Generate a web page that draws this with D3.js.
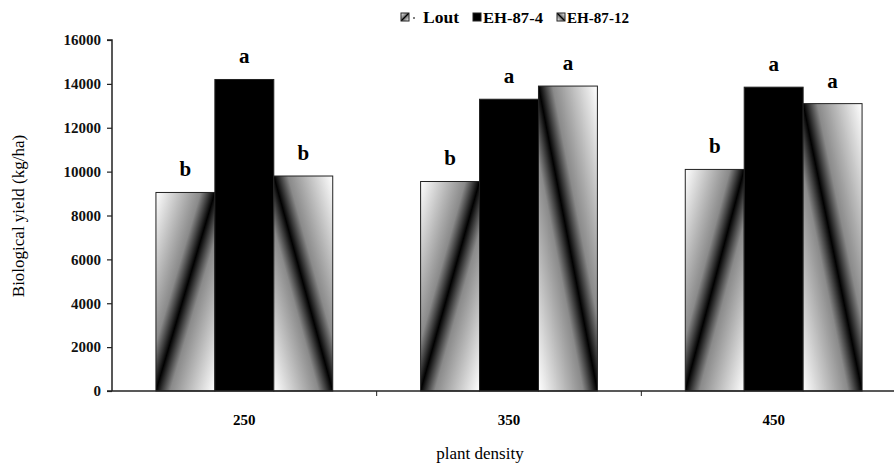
<!DOCTYPE html>
<html>
<head>
<meta charset="utf-8">
<script src="https://cdn.jsdelivr.net/npm/d3@7"></script>
<style>
  body { margin: 0; background: #fff; }
  text { font-family: "Liberation Serif", "Times New Roman", serif; }
</style>
</head>
<body>
<svg id="chart" width="894" height="464"></svg>
<script>
// chart data
var densities = ["250", "350", "450"];
var cultivars = ["Lout", "EH-87-4", "EH-87-12"];
var lout = [9050, 9550, 10100];
var eh874 = [14200, 13300, 13850];
var eh8712 = [9800, 13900, 13100];
var letters = [["b", "a", "b"], ["b", "a", "a"], ["b", "a", "a"]];
var yTicks = [0, 2000, 4000, 6000, 8000, 10000, 12000, 14000, 16000];

var series = [lout, eh874, eh8712];
var fills = ["url(#gradLout)", "#000", "url(#gradEH12)"];

var svg = d3.select("#chart");
var plotLeft = 112, plotRight = 906, plotTop = 40, plotBottom = 391;

var defs = svg.append("defs");
function makeGrad(id, x1, y1, x2, y2) {
    var g = defs.append("linearGradient").attr("id", id)
        .attr("x1", x1).attr("y1", y1).attr("x2", x2).attr("y2", y2);
    g.append("stop").attr("offset", "0%").attr("stop-color", "#fff");
    g.append("stop").attr("offset", "38%").attr("stop-color", "#8a8a8a");
    g.append("stop").attr("offset", "50%").attr("stop-color", "#000");
    g.append("stop").attr("offset", "62%").attr("stop-color", "#8a8a8a");
    g.append("stop").attr("offset", "100%").attr("stop-color", "#fff");
}
makeGrad("gradLout", 0, 0, 1, 1);
makeGrad("gradEH12", 1, 0, 0, 1);

var x0 = d3.scaleBand().domain(densities).range([plotLeft, plotRight])
    .paddingInner(0.332).paddingOuter(0.166);
var x1 = d3.scaleBand().domain(cultivars).range([0, x0.bandwidth()]);
var y = d3.scaleLinear().domain([0, 16000]).range([plotBottom, plotTop]);

// bars
var groups = svg.append("g").selectAll("g")
    .data(densities)
    .enter().append("g")
    .attr("transform", d => "translate(" + x0(d) + ",0)");

groups.each(function(d, i) {
    var g = d3.select(this);
    cultivars.forEach(function(c, j) {
        var v = series[j][i];
        g.append("rect")
            .attr("x", x1(c))
            .attr("y", y(v))
            .attr("width", x1.bandwidth())
            .attr("height", y(0) - y(v))
            .attr("fill", fills[j])
            .attr("stroke", "#222")
            .attr("stroke-width", 1);
        g.append("text")
            .attr("x", x1(c) + x1.bandwidth() / 2)
            .attr("y", y(v) - 16)
            .attr("text-anchor", "middle")
            .style("font-size", "21px")
            .style("font-weight", "bold")
            .text(letters[i][j]);
    });
});

// y axis
var yAxis = d3.axisLeft(y).tickValues(yTicks).tickSize(5).tickPadding(6)
    .tickFormat(d3.format("d"));
var yg = svg.append("g").attr("transform", "translate(" + plotLeft + ",0)").call(yAxis);
yg.select(".domain").attr("stroke", "#222").attr("stroke-width", 1.5)
    .attr("d", "M-5," + plotTop + "H0V" + plotBottom);
yg.selectAll(".tick line").attr("stroke", "#222").attr("stroke-width", 1.2);
yg.selectAll(".tick text")
    .style("font-size", "15px").style("font-weight", "bold")
    .attr("fill", "#111")
    .attr("font-family", "Liberation Serif");

// x axis
svg.append("line")
    .attr("x1", plotLeft - 5).attr("x2", 894)
    .attr("y1", plotBottom).attr("y2", plotBottom)
    .attr("stroke", "#222").attr("stroke-width", 1.5);
svg.append("g").selectAll("line")
    .data(densities.slice(1))
    .enter().append("line")
    .attr("x1", d => x0(d) - x0.step() * x0.paddingInner() / 2)
    .attr("x2", d => x0(d) - x0.step() * x0.paddingInner() / 2)
    .attr("y1", plotBottom).attr("y2", plotBottom + 5)
    .attr("stroke", "#222");
svg.append("g").selectAll("text")
    .data(densities)
    .enter().append("text")
    .attr("x", d => x0(d) + x0.bandwidth() / 2)
    .attr("y", 425)
    .attr("text-anchor", "middle")
    .style("font-size", "15px").style("font-weight", "bold")
    .text(d => d);

// axis titles
svg.append("text")
    .attr("x", 480).attr("y", 459)
    .attr("text-anchor", "middle")
    .style("font-size", "17px")
    .text("plant density");
svg.append("text")
    .attr("transform", "translate(24,216) rotate(-90)")
    .attr("text-anchor", "middle")
    .style("font-size", "17px")
    .text("Biological yield (kg/ha)");

// legend
var legX = [401, 473, 557];
var leg = svg.append("g").selectAll("g")
    .data(cultivars)
    .enter().append("g")
    .attr("transform", (d, i) => "translate(" + legX[i] + ",13)");
leg.append("rect")
    .attr("width", 8).attr("height", 8)
    .attr("fill", (d, i) => fills[i])
    .attr("stroke", "#222");
leg.append("text")
    .attr("x", (d, i) => i == 0 ? 22 : 10)
    .attr("y", 10)
    .style("font-size", (d, i) => i == 0 ? "17px" : "14px")
    .style("font-weight", "bold")
    .attr("textLength", (d, i) => [36, 60, 62][i])
    .attr("lengthAdjust", "spacingAndGlyphs")
    .text(d => d);
svg.append("circle").attr("cx", 414).attr("cy", 18).attr("r", 1).attr("fill", "#555");
</script>
</body>
</html>
